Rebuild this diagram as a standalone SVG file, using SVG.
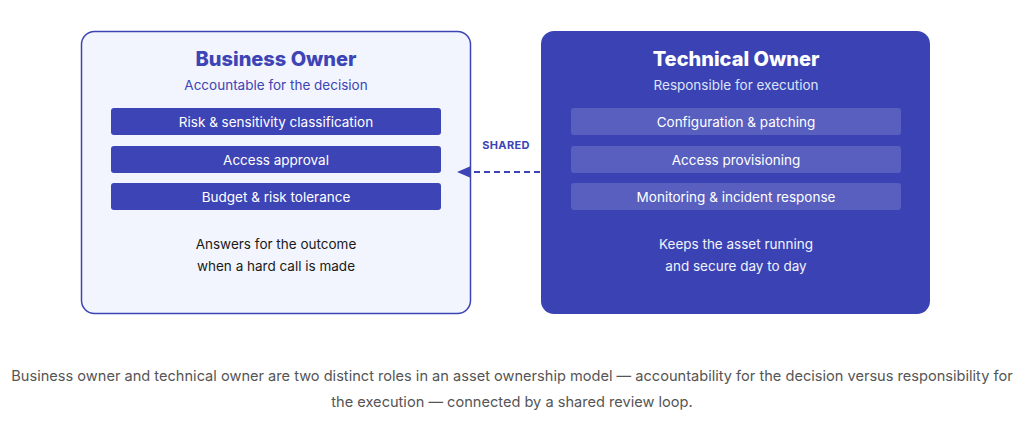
<svg xmlns="http://www.w3.org/2000/svg" width="1024" height="426" viewBox="0 0 1024 426">
  <defs>
    <style>
      text { font-family: Inter, "Noto Sans", "DejaVu Sans", sans-serif; text-anchor: middle; }
      .title { font-size: 20px; font-weight: 800; }
      .sub { font-size: 13.5px; }
      .item { font-size: 13.5px; fill: #ffffff; }
      .note { font-size: 13.5px; }
      .caption { font-size: 14.6px; fill: #555555; }
      .shared { font-size: 11px; font-weight: 700; fill: #3d44b5; letter-spacing: 0.3px; }
    </style>
    <marker id="arrow" viewBox="0 0 14 12" refX="2" refY="6" markerWidth="14" markerHeight="12" markerUnits="userSpaceOnUse" orient="auto">
      <path d="M14,6 L0,0 L0,12 Z" fill="#3d44b5"/>
    </marker>
  </defs>

  <rect width="1024" height="426" fill="#ffffff"/>

  <!-- Business owner card -->
  <g id="business-owner">
    <rect x="81.5" y="31.5" width="389" height="282" rx="13" fill="#f2f5fd" stroke="#3d44b5" stroke-width="1.5"/>
    <text class="title" x="276" y="66" fill="#3d44b5">Business Owner</text>
    <text class="sub" x="276" y="90" fill="#3d44b5">Accountable for the decision</text>
    <rect x="111" y="108" width="330" height="27" rx="3" fill="#3d44b5"/>
    <text class="item" x="276" y="127">Risk &amp; sensitivity classification</text>
    <rect x="111" y="146" width="330" height="27" rx="3" fill="#3d44b5"/>
    <text class="item" x="276" y="165">Access approval</text>
    <rect x="111" y="183" width="330" height="27" rx="3" fill="#3d44b5"/>
    <text class="item" x="276" y="202">Budget &amp; risk tolerance</text>
    <text class="note" x="276" y="249" fill="#1a1a1a">Answers for the outcome</text>
    <text class="note" x="276" y="271" fill="#1a1a1a">when a hard call is made</text>
  </g>

  <!-- Technical owner card -->
  <g id="technical-owner">
    <rect x="541" y="31" width="389" height="283" rx="13" fill="#3b43b4"/>
    <text class="title" x="736" y="66" fill="#ffffff">Technical Owner</text>
    <text class="sub" x="736" y="90" fill="#dfe2f7">Responsible for execution</text>
    <rect x="571" y="108" width="330" height="27" rx="3" fill="#ffffff" fill-opacity="0.15"/>
    <text class="item" x="736" y="127">Configuration &amp; patching</text>
    <rect x="571" y="146" width="330" height="27" rx="3" fill="#ffffff" fill-opacity="0.15"/>
    <text class="item" x="736" y="165">Access provisioning</text>
    <rect x="571" y="183" width="330" height="27" rx="3" fill="#ffffff" fill-opacity="0.15"/>
    <text class="item" x="736" y="202">Monitoring &amp; incident response</text>
    <text class="note" x="736" y="249" fill="#f2f3fb">Keeps the asset running</text>
    <text class="note" x="736" y="271" fill="#f2f3fb">and secure day to day</text>
  </g>

  <!-- Shared review connector: dashed line ending in a filled arrowhead -->
  <g id="connectors">
    <line x1="540" y1="172" x2="471" y2="172" stroke="#3d44b5" stroke-width="2" stroke-dasharray="6 4"/>
    <path d="M457,172 L471,166 L471,178 Z" fill="#3d44b5"/>
    <text class="shared" x="506" y="149">SHARED</text>
  </g>

  <!-- Caption -->
  <text class="caption" x="512" y="381">Business owner and technical owner are two distinct roles in an asset ownership model — accountability for the decision versus responsibility for</text>
  <text class="caption" x="512" y="407">the execution — connected by a shared review loop.</text>
</svg>
